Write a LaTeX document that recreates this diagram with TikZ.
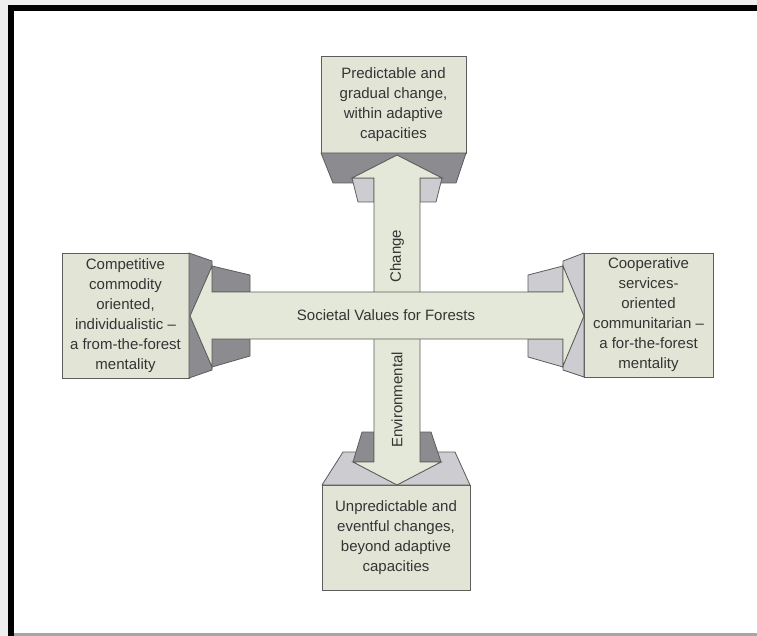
\documentclass[tikz,border=0pt]{standalone}
\usepackage{fontspec}
\setmainfont{Liberation Sans}
\definecolor{pagegrey}{RGB}{238,238,238}
\definecolor{boxfill}{RGB}{226,229,214}
\definecolor{shaftfill}{RGB}{228,232,216}
\definecolor{darkface}{RGB}{140,140,144}
\definecolor{lightface}{RGB}{204,204,209}
\definecolor{edge}{RGB}{92,92,92}
\definecolor{txt}{RGB}{52,52,52}
\begin{document}
\begin{tikzpicture}[x=1pt,y=-1pt,
  every node/.style={inner sep=0pt, text=txt, font=\fontsize{15}{20}\selectfont},
  valuebox/.style={draw=edge, line width=0.9pt, fill=boxfill, align=center},
  darkpart/.style={draw=edge, line width=0.8pt, fill=darkface, line join=round},
  lightpart/.style={draw=edge, line width=0.8pt, fill=lightface, line join=round},
  shaft/.style={draw=edge, line width=0.9pt, fill=shaftfill, line join=miter}]
  % page, frame
  \useasboundingbox (0,0) rectangle (757,636);
  \fill[pagegrey] (0,0) rectangle (757,636);
  \fill[black] (8,5) rectangle (757,636);
  \fill[white] (14,11) rectangle (757,633);
  \fill[gray!70] (14,633) rectangle (757,636);

  % the four value boxes
  \node[valuebox, minimum width=145pt, minimum height=97pt] (top) at (393.5,104.5)
    {Predictable and\\gradual change,\\within adaptive\\capacities};
  \node[valuebox, minimum width=148pt, minimum height=105pt] (bottom) at (396,537.5)
    {Unpredictable and\\eventful changes,\\beyond adaptive\\capacities};
  \node[valuebox, minimum width=127pt, minimum height=125pt] (left) at (125.5,315.5)
    {Competitive\\commodity\\oriented,\\individualistic --\\a from-the-forest\\mentality};
  \node[valuebox, minimum width=129pt, minimum height=124pt] (right) at (648.5,315)
    {Cooperative\\services-\\oriented\\communitarian --\\a for-the-forest\\mentality};

  % openings seen in perspective under each box
  \draw[darkpart] (321,153) -- (466,153) -- (456,183) -- (333,183) -- cycle;
  \draw[lightpart] (352,178) -- (374,178) -- (374,202) -- (358,202) -- cycle;
  \draw[lightpart] (420,178) -- (442,178) -- (436,202) -- (420,202) -- cycle;

  \draw[lightpart] (343,452) -- (455,452) -- (470,485) -- (322,485) -- cycle;
  \draw[darkpart] (362,432) -- (374,432) -- (374,462) -- (353,462) -- cycle;
  \draw[darkpart] (420,432) -- (431,432) -- (441,462) -- (420,462) -- cycle;

  \draw[darkpart] (189,253) -- (212,261) -- (212,370) -- (189,378) -- cycle;
  \draw[darkpart] (212,266) -- (250,275) -- (250,292) -- (212,292) -- cycle;
  \draw[darkpart] (212,339) -- (250,339) -- (250,356) -- (212,367) -- cycle;

  \draw[lightpart] (584,253) -- (563,261) -- (563,370) -- (584,377) -- cycle;
  \draw[lightpart] (563,266) -- (528,275) -- (528,292) -- (563,292) -- cycle;
  \draw[lightpart] (563,339) -- (528,339) -- (528,357) -- (563,367) -- cycle;

  % environmental change: vertical double arrow
  \coordinate (vtip1) at (397,155);
  \coordinate (vtip2) at (397,485);
  \draw[shaft] (vtip1) -- (442,178) -- (420,178) -- (420,462) -- (441,462) -- (vtip2)
    -- (353,462) -- (374,462) -- (374,178) -- (352,178) -- cycle;

  % societal values: horizontal double arrow
  \coordinate (htip1) at (190,316);
  \coordinate (htip2) at (584,316);
  \draw[shaft] (htip1) -- (212,266) -- (212,292) -- (563,292) -- (563,266) -- (htip2)
    -- (563,366) -- (563,339) -- (212,339) -- (212,367) -- cycle;

  % labels on the arrows
  \node[rotate=90] (change) at (397,256) {Change};
  \node[rotate=90] (env) at (397,400) {Environmental};
  \node (values) at (386,315.5) {Societal Values for Forests};
\end{tikzpicture}
\end{document}
